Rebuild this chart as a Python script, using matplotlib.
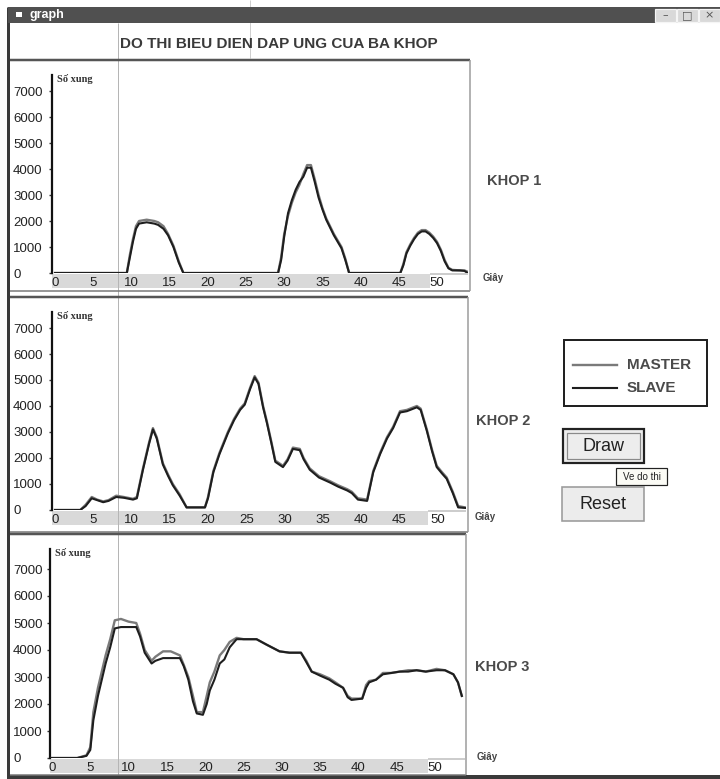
import matplotlib
matplotlib.use("Agg")
import matplotlib.pyplot as plt
from matplotlib.patches import Rectangle

# ---------------- data ----------------
joint_names = ["KHOP 1", "KHOP 2", "KHOP 3"]
series_names = ["MASTER", "SLAVE"]
y_ticks = [0, 1000, 2000, 3000, 4000, 5000, 6000, 7000]
x_ticks = [0, 5, 10, 15, 20, 25, 30, 35, 40, 45, 50]

t1 = [0, 9.4, 9.8, 10.2, 10.6, 11.0, 12.0, 13.0, 13.5, 14.2, 14.8, 15.5, 16.2, 16.8,
      29.2, 29.6, 30.0, 30.5, 31.0, 31.5, 32.0, 32.5, 33.0, 33.5, 34.0, 34.5, 35.0, 35.5,
      36.0, 36.5, 37.0, 37.5, 38.0, 38.5, 45.2, 45.6, 46.0, 46.5, 47.0, 47.5, 48.0, 48.5,
      49.0, 49.5, 50.0, 50.5, 51.0, 51.5, 52.0, 53.0, 53.6, 54.0]
master1 = [0, 0, 700, 1300, 1800, 2000, 2050, 2000, 1950, 1800, 1500, 1050, 450, 0,
           0, 600, 1500, 2200, 2700, 3100, 3400, 3800, 4150, 4150, 3600, 3000, 2500, 2100,
           1800, 1500, 1250, 1000, 550, 0, 0, 350, 800, 1100, 1350, 1550, 1650, 1650,
           1550, 1400, 1200, 900, 500, 200, 120, 100, 100, 50]
slave1 = [0, 0, 600, 1200, 1700, 1900, 1950, 1900, 1850, 1700, 1450, 1000, 400, 0,
          0, 500, 1400, 2300, 2800, 3200, 3500, 3700, 4050, 4050, 3500, 2900, 2450, 2050,
          1750, 1450, 1200, 950, 500, 0, 0, 300, 750, 1050, 1300, 1500, 1600, 1600,
          1500, 1350, 1150, 850, 450, 180, 100, 100, 80, 0]

t2 = [0, 3.3, 4.0, 4.8, 5.5, 6.3, 7.0, 8.0, 9.0, 10.2, 10.7, 11.5, 12.3, 12.8, 13.3,
      14.1, 14.8, 15.4, 16.3, 17.2, 19.6, 20.0, 20.7, 21.5, 22.6, 23.4, 24.2, 24.8, 25.5,
      26.1, 26.6, 27.2, 27.7, 28.3, 28.8, 29.8, 30.4, 31.1, 32.0, 32.5, 33.3, 34.5, 36.0,
      37.0, 38.2, 38.8, 39.6, 40.8, 41.6, 42.5, 43.4, 44.2, 45.1, 46.0, 47.3, 47.8, 48.6,
      49.3, 49.9, 50.6, 51.2, 52.0, 52.7, 53.6]
master2 = [0, 0, 200, 500, 400, 330, 380, 550, 500, 430, 500, 1600, 2600, 3150, 2800,
           1800, 1350, 1000, 600, 100, 100, 500, 1500, 2200, 3000, 3500, 3900, 4100, 4700,
           5150, 4900, 4000, 3400, 2600, 1900, 1700, 1950, 2400, 2350, 2000, 1600, 1300, 1100,
           950, 800, 700, 450, 400, 1500, 2200, 2800, 3200, 3800, 3850, 4000, 3900, 3100,
           2300, 1700, 1450, 1250, 700, 150, 100]
slave2 = [0, 0, 150, 450, 380, 300, 350, 500, 470, 400, 450, 1550, 2550, 3100, 2750,
          1750, 1300, 950, 550, 100, 100, 450, 1450, 2150, 2950, 3450, 3850, 4050, 4650,
          5100, 4850, 3950, 3350, 2550, 1850, 1650, 1900, 2350, 2300, 1950, 1550, 1250, 1050,
          900, 750, 650, 400, 350, 1450, 2150, 2750, 3150, 3750, 3800, 3950, 3850, 3050,
          2250, 1650, 1400, 1200, 650, 100, 80]

t3 = [0, 3.3, 4.5, 5.0, 5.4, 6.0, 6.5, 7.0, 7.6, 8.2, 9.0, 9.5, 10.0, 11.0, 11.5,
      12.1, 13.0, 13.5, 14.5, 15.5, 16.7, 17.2, 17.8, 18.4, 18.9, 19.7, 20.2, 20.6, 21.2,
      21.9, 22.5, 23.2, 24.1, 25.0, 26.7, 28.0, 29.7, 31.0, 32.5, 33.2, 33.9, 35.0, 36.2,
      37.0, 38.0, 38.6, 39.1, 40.5, 41.0, 41.4, 42.3, 43.2, 44.3, 45.4, 46.5, 47.6, 48.8,
      50.2, 51.3, 52.4, 53.0, 53.5]
master3 = [0, 0, 100, 400, 1700, 2600, 3200, 3800, 4400, 5100, 5150, 5100, 5050, 5000, 4600,
           4000, 3600, 3750, 3950, 3950, 3800, 3450, 3000, 2300, 1700, 1700, 2300, 2800, 3200,
           3800, 4000, 4300, 4450, 4400, 4400, 4200, 3950, 3900, 3900, 3600, 3200, 3100, 2950,
           2800, 2600, 2300, 2200, 2200, 2700, 2850, 2900, 3150, 3150, 3200, 3250, 3250, 3200,
           3300, 3250, 3100, 2800, 2300]
slave3 = [0, 0, 80, 300, 1400, 2300, 2900, 3500, 4100, 4800, 4850, 4850, 4850, 4850, 4500,
          3900, 3500, 3600, 3700, 3700, 3700, 3400, 2900, 2100, 1650, 1600, 2000, 2500, 2900,
          3500, 3650, 4100, 4400, 4400, 4400, 4200, 3950, 3900, 3900, 3550, 3200, 3050, 2900,
          2750, 2600, 2250, 2150, 2200, 2600, 2800, 2900, 3100, 3150, 3200, 3200, 3250, 3200,
          3250, 3250, 3100, 2800, 2300]

# ---------------- figure ----------------
W, H = 720, 779
fig = plt.figure(figsize=(W / 100, H / 100), dpi=100)
fig.patch.set_facecolor("white")
PT = 0.72  # points per pixel

bg = fig.add_axes([0, 0, 1, 1], zorder=0)
bg.set_xlim(0, W)
bg.set_ylim(H, 0)
bg.axis("off")

SANS = "Liberation Sans"


def rect(x0, y0, x1, y1, fc="none", ec="none", lw=1.0, z=1):
    bg.add_patch(Rectangle((x0, y0), x1 - x0, y1 - y0, facecolor=fc, edgecolor=ec,
                           linewidth=lw * PT, zorder=z))


def hline(y, x0, x1, c, lw):
    bg.plot([x0, x1], [y, y], color=c, lw=lw * PT, solid_capstyle="butt", zorder=2)


def vline(x, y0, y1, c, lw):
    bg.plot([x, x], [y0, y1], color=c, lw=lw * PT, solid_capstyle="butt", zorder=2)


# scan artifacts: faint vertical lines
vline(118, 23, 775, "#b5b5b5", 1)
vline(250, 0, 58, "#cfcfcf", 1)

# title bar
rect(8, 7, 720, 23, fc="#505050", z=3)
bg.text(29, 15, "graph", color="white", fontsize=9, fontweight="bold", family=SANS,
        va="center", ha="left", zorder=4)
rect(16, 12, 22, 17, fc="white", z=4)
for bx0, bx1, glyph in [(655, 676, "–"), (677, 698, "□"), (699, 720, "×")]:
    rect(bx0, 9, bx1, 22, fc="#d9d9d9", ec="#f5f5f5", lw=1.2, z=4)
    bg.text((bx0 + bx1) / 2, 15.5, glyph, fontsize=8, ha="center", va="center",
            color="#555555", zorder=5, family="DejaVu Sans")

# window frame
vline(8, 7, H, "#3a3a3a", 3)
hline(777, 7, W, "#3a3a3a", 4)

# main title
bg.text(120, 44, "DO THI BIEU DIEN DAP UNG CUA BA KHOP", fontsize=11, fontweight="bold",
        family=SANS, color="#3a3a3a", ha="left", va="center", zorder=3)

# panel frames
panels = [
    dict(box=(10, 60, 470, 291), L=52, R=468, T=75, B=273, t0=55, ppu=7.64, kpx=26.0,
         band_r=430, t=t1, m=master1, s=slave1, label=(487, 181), unit=(483, 278)),
    dict(box=(10, 297, 468, 532), L=52, R=466, T=312, B=510, t0=55, ppu=7.65, kpx=26.0,
         band_r=428, t=t2, m=master2, s=slave2, label=(476, 421), unit=(475, 517)),
    dict(box=(10, 534, 466, 775), L=50, R=465, T=549, B=758, t0=52, ppu=7.66, kpx=27.0,
         band_r=428, t=t3, m=master3, s=slave3, label=(475, 667), unit=(477, 757)),
]

for i, p in enumerate(panels):
    x0, y0, x1, y1 = p["box"]
    hline(y0, x0, x1, "#555555", 2.5)
    hline(y1, x0, x1, "#777777", 1.5)
    vline(x1, y0, y1, "#9a9a9a", 1.5)
    # grey band behind x tick labels
    rect(p["L"], p["B"] + 1, p["band_r"], p["B"] + 15, fc="#d9d9d9", z=1)
    hline(p["B"] + 1, p["band_r"], p["R"], "#bdbdbd", 1.5)

    L, R, T, B = p["L"], p["R"], p["T"], p["B"]
    ax = fig.add_axes([L / W, 1 - B / H, (R - L) / W, (B - T) / H], zorder=2)
    ax.set_facecolor("none")
    ax.set_xlim((L - p["t0"]) / p["ppu"], (R - p["t0"]) / p["ppu"])
    ax.set_ylim(0, (B - T) / p["kpx"] * 1000)
    for side in ["top", "right", "bottom"]:
        ax.spines[side].set_visible(False)
    ax.spines["left"].set_color("#111111")
    ax.spines["left"].set_linewidth(1.6)

    ax.plot(p["t"], p["m"], color="#7a7a7a", lw=1.7, label=series_names[0],
            solid_joinstyle="round", zorder=3)
    ax.plot(p["t"], p["s"], color="#1e1e1e", lw=1.5, label=series_names[1],
            solid_joinstyle="round", zorder=4)

    ax.set_yticks(y_ticks)
    ax.set_yticklabels([str(v) for v in y_ticks])
    ax.set_xticks(x_ticks)
    ax.set_xticklabels([str(v) for v in x_ticks])
    ticklen = 2.5
    ax.tick_params(axis="y", length=ticklen, width=1, color="#333333",
                   pad=(L - 13) * PT - ticklen, labelsize=9.5, labelcolor="#222222")
    ax.tick_params(axis="x", length=0, pad=3, labelsize=9.5, labelcolor="#222222")
    for lab in ax.get_yticklabels():
        lab.set_horizontalalignment("left")
        lab.set_family(SANS)
    for lab in ax.get_xticklabels():
        lab.set_family(SANS)

    # axis captions
    bg.text(L + 5, T + 4, "Số xung", fontsize=7.5, fontweight="bold", family="Liberation Serif",
            color="#333333", ha="left", va="center", zorder=3)
    bg.text(p["unit"][0], p["unit"][1], "Giây", fontsize=7, fontweight="bold",
            family=SANS, color="#444444", ha="left", va="center", zorder=3)
    bg.text(p["label"][0], p["label"][1], joint_names[i], fontsize=10.5, fontweight="bold",
            family=SANS, color="#4a4a4a", ha="left", va="center", zorder=3)

# legend box
rect(564, 340, 707, 406, fc="white", ec="#222222", lw=2, z=3)
bg.plot([573, 617], [365, 365], color="#7a7a7a", lw=1.7 * PT * 1.4, zorder=4)
bg.plot([573, 617], [388, 388], color="#1e1e1e", lw=1.5 * PT * 1.4, zorder=4)
bg.text(627, 365, series_names[0], fontsize=11, fontweight="bold", family=SANS,
        color="#4a4a4a", ha="left", va="center", zorder=4)
bg.text(627, 388, series_names[1], fontsize=11, fontweight="bold", family=SANS,
        color="#4a4a4a", ha="left", va="center", zorder=4)

# Draw button
rect(563, 429, 644, 463, fc="#ededed", ec="#222222", lw=2.2, z=3)
rect(567, 433, 640, 459, fc="#ededed", ec="#8a8a8a", lw=1.2, z=3)
bg.text(604, 446, "Draw", fontsize=13, family=SANS, color="#222222",
        ha="center", va="center", zorder=4)

# Reset button
rect(562, 487, 644, 521, fc="#ececec", ec="#9a9a9a", lw=1.6, z=3)
bg.text(603, 504, "Reset", fontsize=13, family=SANS, color="#222222",
        ha="center", va="center", zorder=4)

# tooltip
rect(616, 468, 667, 485, fc="#fbfbf5", ec="#222222", lw=1.2, z=5)
bg.text(641.5, 476.5, "Ve do thi", fontsize=7, family=SANS, color="#222222",
        ha="center", va="center", zorder=6)

fig.savefig("out.png", dpi=100, facecolor="white")
